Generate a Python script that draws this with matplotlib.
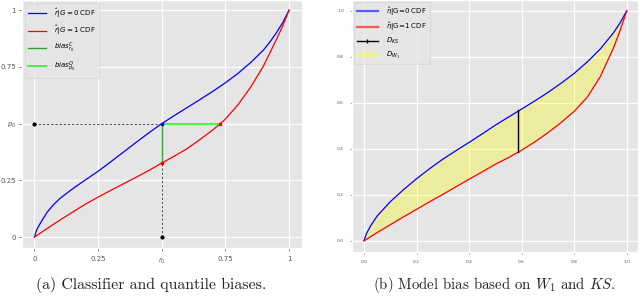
import matplotlib
matplotlib.use("Agg")
import matplotlib.pyplot as plt
from matplotlib.patches import Patch
from matplotlib.lines import Line2D

# ---- data ----
left_x_blue = [0, 0.005, 0.01, 0.025, 0.05, 0.075, 0.1, 0.15, 0.2, 0.25, 0.3, 0.35, 0.4, 0.45, 0.5,
               0.55, 0.6, 0.65, 0.7, 0.75, 0.8, 0.85, 0.9, 0.925, 0.95, 0.975, 1.0]
left_y_blue = [0, 0.02, 0.035, 0.065, 0.11, 0.143, 0.17, 0.213, 0.252, 0.29, 0.332, 0.375, 0.418, 0.46, 0.5,
               0.536, 0.571, 0.606, 0.642, 0.68, 0.722, 0.77, 0.825, 0.86, 0.9, 0.945, 1.0]
left_x_red = [0, 0.05, 0.1, 0.15, 0.2, 0.25, 0.3, 0.35, 0.4, 0.45, 0.5, 0.55, 0.6, 0.65, 0.7,
              0.73, 0.75, 0.8, 0.85, 0.9, 0.95, 0.975, 1.0]
left_y_red = [0, 0.038, 0.075, 0.11, 0.145, 0.176, 0.206, 0.235, 0.264, 0.294, 0.326, 0.357, 0.39,
              0.43, 0.472, 0.5, 0.52, 0.584, 0.662, 0.755, 0.87, 0.93, 1.0]
r0 = 0.5
p0 = 0.5
red_at_r0 = 0.326
red_q_at_p0 = 0.73
left_xticks = [0, 0.25, 0.5, 0.75, 1]
left_xticklabels = ["0", "0.25", r"$r_0$", "0.75", "1"]
left_yticks = [0, 0.25, 0.5, 0.75, 1]
left_yticklabels = ["0", "0.25", r"$p_0$", "0.75", "1"]

right_x_blue = [0, 0.005, 0.01, 0.025, 0.05, 0.1, 0.15, 0.2, 0.25, 0.3, 0.35, 0.4, 0.45, 0.5,
                0.55, 0.6, 0.65, 0.7, 0.75, 0.8, 0.85, 0.9, 0.95, 0.975, 1.0]
right_y_blue = [0, 0.018, 0.033, 0.065, 0.108, 0.17, 0.222, 0.27, 0.314, 0.355, 0.392, 0.428, 0.465, 0.503,
                0.538, 0.573, 0.608, 0.645, 0.685, 0.728, 0.778, 0.835, 0.905, 0.948, 1.0]
right_x_red = [0, 0.05, 0.1, 0.15, 0.2, 0.25, 0.3, 0.35, 0.4, 0.45, 0.5, 0.55, 0.6, 0.65, 0.7,
               0.75, 0.8, 0.85, 0.9, 0.95, 0.975, 1.0]
right_y_red = [0, 0.036, 0.07, 0.104, 0.137, 0.17, 0.202, 0.235, 0.268, 0.3, 0.333, 0.362, 0.394,
               0.43, 0.47, 0.514, 0.563, 0.625, 0.715, 0.84, 0.915, 1.0]
ks_x = 0.588
ks_top = 0.567
ks_bottom = 0.386
right_ticks = [0.0, 0.2, 0.4, 0.6, 0.8, 1.0]

plt.style.use("ggplot")
fig = plt.figure(figsize=(6.4, 2.98), dpi=100)

# ---------------- left panel ----------------
ax1 = fig.add_axes([0.034, 0.168, 0.4375, 0.832])
ax1.plot(left_x_blue, left_y_blue, color="blue", lw=0.9, label=r"$\hat{r}|G=0$ CDF")
ax1.plot(left_x_red, left_y_red, color="red", lw=0.9, label=r"$\hat{r}|G=1$ CDF")
ax1.plot([r0, r0], [red_at_r0, p0], color="green", lw=1.0, alpha=0.75, label=r"$bias^C_{r_0}$")
ax1.plot([r0, red_q_at_p0], [p0, p0], color="lime", lw=1.3, alpha=0.8, label=r"$bias^Q_{p_0}$")
ax1.plot([0, r0], [p0, p0], color="#333333", ls="--", lw=0.6, dashes=(3, 2), zorder=1)
ax1.plot([r0, r0], [0, red_at_r0], color="#333333", ls="--", lw=0.6, dashes=(3, 2), zorder=1)
ax1.plot([0], [p0], "o", color="black", ms=2)
ax1.plot([r0], [0], "o", color="black", ms=2)
ax1.plot([r0], [p0], "s", color="blue", ms=1.8)
ax1.plot([r0], [red_at_r0], "s", color="red", ms=1.8)
ax1.plot([red_q_at_p0], [p0], "s", color="red", ms=1.8)
ax1.set_xlim(-0.05, 1.05)
ax1.set_ylim(-0.048, 1.045)
ax1.set_xticks(left_xticks)
ax1.set_xticklabels(left_xticklabels)
ax1.set_yticks(left_yticks)
ax1.set_yticklabels(left_yticklabels)
ax1.tick_params(labelsize=5, length=2, width=0.5, colors="#555555")
ax1.tick_params(axis="x", pad=4)
ax1.tick_params(axis="y", pad=2)
ax1.grid(color="white", lw=0.9)
leg1 = ax1.legend(loc="upper left", fontsize=5, frameon=True, borderpad=0.5,
                  labelspacing=0.6, handlelength=2.6, handletextpad=1.1,
                  borderaxespad=0.4)
leg1.get_frame().set_facecolor("#E5E5E5")
leg1.get_frame().set_edgecolor("#D0D0D0")
leg1.get_frame().set_linewidth(0.5)

fig.text(0.236, 0.043, "(a) Classifier and quantile biases.", family="cmr10",
         fontsize=11.4, ha="center", va="center", color="#222222")

# ---------------- right panel ----------------
ax2 = fig.add_axes([0.5495, 0.154, 0.447, 0.846])
ax2.fill(right_x_blue + right_x_red[::-1], right_y_blue + right_y_red[::-1],
         color="yellow", alpha=0.3, lw=0, zorder=1)
ax2.plot(right_x_blue, right_y_blue, color="blue", lw=0.9, zorder=3)
ax2.plot(right_x_red, right_y_red, color="red", lw=0.9, zorder=3)
ax2.plot([ks_x, ks_x], [ks_bottom, ks_top], color="black", lw=1.0, zorder=4)
ax2.set_xlim(-0.047, 1.042)
ax2.set_ylim(-0.049, 1.047)
ax2.set_xticks(right_ticks)
ax2.set_yticks(right_ticks)
ax2.set_xticklabels([f"{t:.1f}" for t in right_ticks])
ax2.set_yticklabels([f"{t:.1f}" for t in right_ticks])
ax2.tick_params(labelsize=3.2, length=1.5, width=0.4, pad=4, colors="#555555")
ax2.grid(color="white", lw=0.9)
ax2.set_axisbelow(True)
handles = [
    Line2D([], [], color="blue", lw=1.6, alpha=0.6),
    Line2D([], [], color="red", lw=1.6, alpha=0.6),
    Line2D([], [], color="black", lw=1.0, marker="|", ms=3),
    Patch(facecolor="yellow", alpha=0.35, edgecolor="none"),
]
labels = [r"$\hat{\eta}|$G=0 CDF", r"$\hat{\eta}|$G=1 CDF", r"$D_{KS}$", r"$D_{W_1}$"]
leg2 = ax2.legend(handles, labels, loc="upper left", fontsize=5, frameon=True,
                  borderpad=0.45, labelspacing=0.45, handlelength=3.0,
                  handletextpad=1.2, borderaxespad=0.3)
leg2.get_frame().set_facecolor("#E5E5E5")
leg2.get_frame().set_edgecolor("#D0D0D0")
leg2.get_frame().set_linewidth(0.5)

t = fig.text(0.772, 0.043, r"(b) Model bias based on $W_1$ and $KS$.", family="cmr10",
             fontsize=10.7, ha="center", va="center", color="#222222")
t.set_math_fontfamily("cm")

fig.savefig("out.png", dpi=100)
